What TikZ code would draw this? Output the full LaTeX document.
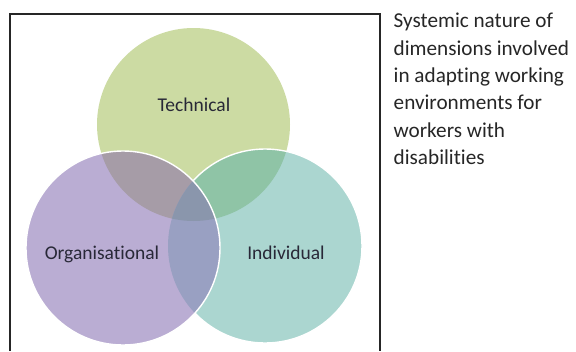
\documentclass[tikz,border=0pt]{standalone}
\usepackage{fontspec}
\setmainfont[Ligatures=CommonOff]{Carlito}
\definecolor{techG}{RGB}{204,219,163}
\definecolor{orgP}{RGB}{186,173,211}
\definecolor{indT}{RGB}{171,214,208}
\definecolor{gpMix}{RGB}{166,156,167}
\definecolor{gtMix}{RGB}{143,196,166}
\definecolor{ptMix}{RGB}{153,160,194}
\definecolor{allMix}{RGB}{138,150,172}
\definecolor{labelInk}{RGB}{40,40,55}
\tikzset{
  circlabel/.style={font=\fontsize{19.5}{23}\selectfont, text=labelInk, inner sep=0pt, anchor=base},
  caption/.style={font=\fontsize{21.2}{27.4}\selectfont, text=black!85, inner sep=0pt, align=left, anchor=north west},
  rim/.style={draw=white, line width=1.4pt},
}
\begin{document}
\begin{tikzpicture}[x=1pt,y=-1pt]
\useasboundingbox (0,0) rectangle (576,351);
% circle geometry
\def\tcirc{(193.5,124.5) circle[radius=96.5]}
\def\ocirc{(123,248) circle[radius=97]}
\def\icirc{(265,246) circle[radius=97]}
% frame, open at the bottom edge
\draw[line width=2pt, black!85] (10,351) -- (10,14) -- (380,14) -- (380,351);
% Technical
\fill[techG] \tcirc;
% Individual, with its overlap on Technical
\fill[indT] \icirc;
\begin{scope}
  \clip \tcirc;
  \fill[gtMix] \icirc;
\end{scope}
\draw[rim] \icirc;
% Organisational, with its overlaps
\fill[orgP] \ocirc;
\begin{scope}
  \clip \ocirc;
  \fill[gpMix] \tcirc;
  \fill[ptMix] \icirc;
  \clip \tcirc;
  \fill[allMix] \icirc;
\end{scope}
\draw[rim] \ocirc;
% labels
\node[circlabel] (tech) at (194,111.5) {Technical};
\node[circlabel] (org) at (102,259.3) {Organisational};
\node[circlabel] (ind) at (286,259.3) {Individual};
\node[caption] (cap) at (393.5,13) {Systemic nature of\\dimensions involved\\in adapting working\\environments for\\workers with\\disabilities};
\end{tikzpicture}
\end{document}
